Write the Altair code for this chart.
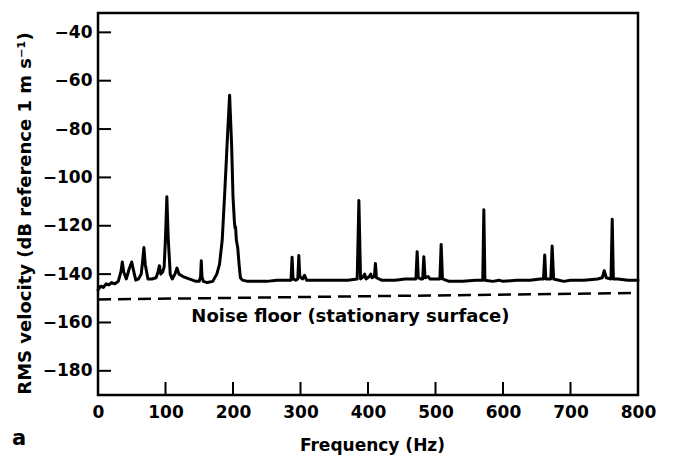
import altair as alt
import pandas as pd

# Spectrum (Hz, dB re 1 m/s)
freq_hz = [
    0, 4, 8, 12, 16, 20, 25, 30, 34, 36, 38, 42, 46, 50, 53, 56, 60, 64, 66, 68,
    70, 74, 80, 86, 89, 91, 93, 96, 98, 100, 102, 104, 107, 110, 114, 117, 120, 126, 135, 145,
    150, 152, 153, 154, 156, 162, 170, 176, 180, 184, 188, 192, 195, 198, 200, 202, 203, 203.8, 205, 207,
    209, 211, 214, 222, 235, 250, 265, 280, 286, 287.5, 289, 293, 296, 297.5, 299, 303, 306, 309, 330, 350,
    370, 384, 386.5, 389, 393, 395, 397, 402, 404, 406, 409.5, 411, 412.5, 420, 440, 455, 462, 471, 472.8, 474.5,
    478, 481, 482.7, 484.5, 489, 492, 506.5, 508.4, 510.3, 520, 540, 560, 570, 571.6, 573.2, 585, 594, 600, 620, 640,
    655, 660, 661.8, 663.5, 670.8, 672.8, 675, 690, 700, 720, 740, 747, 750, 753, 760, 761.8, 763.5, 770, 785, 800,
]
rms_db = [
    -146.5, -145, -145.5, -144, -144.5, -143.5, -144, -143, -139, -135, -139, -142, -138, -135, -139, -142.5, -142, -140, -135, -129,
    -136, -142, -142, -141.5, -139, -136.5, -140, -139, -137, -125, -108, -125, -140, -142, -140, -137.5, -140, -141, -142, -143,
    -143, -141, -134.5, -141, -143, -143.5, -143, -140, -136, -126, -105, -82, -66, -87, -108, -118, -121, -120.5, -126, -129,
    -136, -141.5, -142.5, -143, -143, -143, -142.5, -142.5, -142.5, -133, -142, -142.5, -142, -132.3, -141, -142, -140.5, -142.5, -142.5, -142.5,
    -142.5, -142, -109.6, -142, -141, -140, -142, -141, -140, -141.5, -141, -135.6, -141.5, -142.5, -142.5, -142, -142, -142, -130.7, -141.5,
    -142, -142, -132.8, -141.5, -141, -142, -142, -127.7, -142, -143, -143, -142.5, -142.5, -113.4, -142.5, -143, -142.5, -143, -142.5, -142.5,
    -142, -142, -132.1, -142, -142, -128.4, -142, -143, -142.5, -142.5, -142, -141.5, -138.6, -141.5, -142, -117.3, -142, -142, -142.5, -142.5,
]

noise_freq_hz = [0, 800]
noise_db = [-150.5, -147.8]

y_tick_values = [-40, -60, -80, -100, -120, -140, -160, -180]
x_label_values = [0, 100, 200, 300, 400, 500, 600, 700, 800]
x_inner_ticks = [100, 200, 300, 400, 500, 600, 700]

noise_label = ["Noise floor (stationary surface)"]
noise_label_x = [374]
noise_label_y = [-160]

FONT = "DejaVu Sans"
XS = alt.Scale(domain=[0, 800], nice=False, zero=False)
YS = alt.Scale(domain=[-190, -32], nice=False, zero=False)

X_AXIS = alt.Axis(
    values=x_label_values, ticks=False, domain=False, grid=False,
    labelFont=FONT, labelFontSize=17, labelFontWeight="bold", labelColor="black",
    labelPadding=9, labelFlush=False,
    title="Frequency (Hz)", titleFont=FONT, titleFontSize=17, titleFontWeight="bold",
    titleColor="black", titleX=274, titleY=55, titleBaseline="alphabetic", titleAlign="center",
)
Y_AXIS = alt.Axis(
    values=y_tick_values, ticks=False, domain=False, grid=False,
    labelFont=FONT, labelFontSize=17, labelFontWeight="bold", labelColor="black",
    labelPadding=6, labelFlush=False,
    title="RMS velocity (dB reference 1 m s⁻¹)", titleFont=FONT, titleFontSize=18,
    titleFontWeight="bold", titleColor="black", titleAngle=270, titleX=-73, titleY=200,
    titleAlign="center", titleBaseline="middle",
)

spec_df = pd.DataFrame({"f": freq_hz, "db": rms_db})
noise_df = pd.DataFrame({"f": noise_freq_hz, "db": noise_db})
ytick_df = pd.DataFrame({"db": y_tick_values})
xtick_df = pd.DataFrame({"f": x_inner_ticks})
label_df = pd.DataFrame({"t": noise_label, "f": noise_label_x, "db": noise_label_y})

spectrum = alt.Chart(spec_df).mark_line(
    color="black", strokeWidth=3, strokeJoin="round", strokeCap="round"
).encode(
    x=alt.X("f:Q", scale=XS, axis=X_AXIS),
    y=alt.Y("db:Q", scale=YS, axis=Y_AXIS),
    order=alt.Order("f:Q"),
)

noise = alt.Chart(noise_df).mark_line(
    color="black", strokeWidth=2.5, strokeDash=[13, 7]
).encode(
    x=alt.X("f:Q", scale=XS, axis=X_AXIS),
    y=alt.Y("db:Q", scale=YS, axis=Y_AXIS),
)

yticks = alt.Chart(ytick_df).mark_rule(color="black", strokeWidth=2).encode(
    y=alt.Y("db:Q", scale=YS, axis=Y_AXIS),
    x=alt.value(0),
    x2=alt.value(13),
)

xticks = alt.Chart(xtick_df).mark_rule(color="black", strokeWidth=2).encode(
    x=alt.X("f:Q", scale=XS, axis=X_AXIS),
    y=alt.value(382),
    y2=alt.value(369),
)

noise_text = alt.Chart(label_df).mark_text(
    font=FONT, fontSize=18, fontWeight="bold", color="black", baseline="alphabetic", align="center"
).encode(
    x=alt.X("f:Q", scale=XS, axis=X_AXIS),
    y=alt.Y("db:Q", scale=YS, axis=Y_AXIS),
    text="t:N",
)

panel = alt.Chart(pd.DataFrame({"t": ["a"]})).mark_text(
    font=FONT, fontSize=21, fontWeight="bold", color="black", baseline="alphabetic", align="left"
).encode(
    x=alt.value(-86),
    y=alt.value(432),
    text="t:N",
)

chart = alt.layer(spectrum, noise, yticks, xticks, noise_text, panel).properties(
    width=540,
    height=382,
    autosize="none",
    background="white",
    padding={"left": 90, "top": 5, "right": 27, "bottom": 64},
).configure_view(
    stroke="black", strokeWidth=2.5, fill="white"
)

chart.save("out.html", embed_options={"renderer": "svg", "actions": False})
